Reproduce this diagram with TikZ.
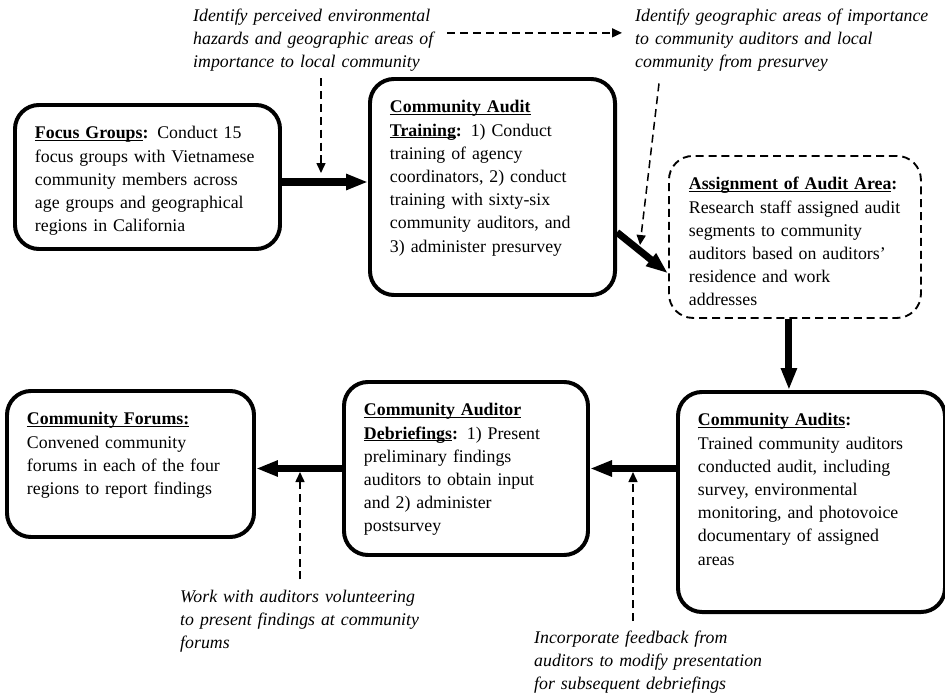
\documentclass[tikz,border=0pt]{standalone}
\usepackage{fontspec}
\setmainfont{Liberation Serif}
\usepackage{tikz}
\usetikzlibrary{arrows.meta}
\newsavebox\hdrbox
\newcommand{\hdr}[1]{\leavevmode\sbox\hdrbox{\textbf{#1}}\rlap{\rule[-1.7pt]{\wd\hdrbox}{0.6pt}}\usebox\hdrbox}
\newcommand{\diagfont}{\fontsize{15.2}{19.8}\selectfont}
\tikzset{
    %Define standard arrow tip
    >={Triangle[length=0.66cm,width=0.45cm]},
    %Define style for boxes
    stage/.style={
           rectangle,
           rounded corners=0.72cm,
           draw=black, line width=3.4pt,
           anchor=north west,
           align=left,
           inner xsep=0.6cm,
           inner ysep=0.66cm,
           text height=0.36cm,
           font=\diagfont},
    pending/.style={
           stage,
           line width=1.6pt,
           dash pattern=on 6.8pt off 4.2pt},
    remark/.style={
           anchor=base west,
           align=left,
           inner sep=0pt,
           font=\diagfont\itshape},
    % Define arrow style
    flow/.style={
           ->,
           line width=6pt},
    hint/.style={
           -{Triangle[length=0.3cm,width=0.27cm]},
           line width=1.3pt,
           dash pattern=on 6.8pt off 4.2pt}
}

\begin{document}
\begin{tikzpicture}[x=0.03cm,y=-0.03cm]
\useasboundingbox (0,0) rectangle (945,698);
% stages of the audit
\node[stage, text width=6.75cm, text depth=2.64cm] (focus) at (13,103)
  {\hdr{Focus Groups}\textbf{:} Conduct 15\\
   focus groups with Vietnamese\\
   community members across\\
   age groups and geographical\\
   regions in California};
\node[stage, text width=6.15cm, text depth=4.8cm] (training) at (368,77)
  {\hdr{Community Audit}\\
   \hdr{Training}\textbf{:} 1) Conduct\\
   training of agency\\
   coordinators, 2) conduct\\
   training with sixty-six\\
   community auditors, and\\
   3) administer presurvey};
\node[pending, text width=6.36cm, text depth=3.18cm] (assign) at (668,155)
  {\hdr{Assignment of Audit Area}\textbf{:}\\
   Research staff assigned audit\\
   segments to community\\
   auditors based on auditors'\\
   residence and work\\
   addresses};
\node[stage, text width=6.81cm, text depth=4.92cm] (audits) at (676,390)
  {\hdr{Community Audits}\textbf{:}\\
   Trained community auditors\\
   conducted audit, including\\
   survey, environmental\\
   monitoring, and photovoice\\
   documentary of assigned\\
   areas};
\node[stage, text width=6.12cm, text depth=3.51cm] (debrief) at (342,380)
  {\hdr{Community Auditor}\\
   \hdr{Debriefings}\textbf{:} 1) Present\\
   preliminary findings\\
   auditors to obtain input\\
   and 2) administer\\
   postsurvey};
\node[stage, text width=6.21cm, text depth=2.7cm] (forums) at (5,389)
  {\hdr{Community Forums:}\\
   Convened community\\
   forums in each of the four\\
   regions to report findings};
% notes
\node[remark, text width=7.5cm] (noteA) at (193,21)
  {Identify perceived environmental\\
   hazards and geographic areas of\\
   importance to local community};
\node[remark, text width=9.5cm] (noteB) at (635,21)
  {Identify geographic areas of importance\\
   to community auditors and local\\
   community from presurvey};
\node[remark, text width=8cm] (noteC) at (180,602)
  {Work with auditors volunteering\\
   to present findings at community\\
   forums};
\node[remark, text width=8cm] (noteD) at (534,643)
  {Incorporate feedback from\\
   auditors to modify presentation\\
   for subsequent debriefings};
\coordinate (tipA) at (321,173);
\coordinate (tipB) at (640,245);
\coordinate (tipC) at (300,472);
\coordinate (tipD) at (633,472);
% main flow
\draw[flow] ([shift={(0,5)}]focus.east) -- ([shift={(0,5)}]focus.east -| training.west);
\draw[flow] (training.-20.6) -- (assign.196);
\draw[flow] ([shift={(-6,0)}]assign.south) -- ([shift={(-6,0)}]assign.south |- audits.north);
\draw[flow] (audits.west |- debrief.east) -- (debrief.east);
\draw[flow] (debrief.west) -- (debrief.west -| forums.east);
% notes to flow
\draw[hint] ([yshift=-0.2cm]tipA |- noteA.south) -- (tipA);
\draw[hint] ([shift={(4,-7)}]noteA.east) -- ([shift={(-13,-7)}]noteB.west);
\draw[hint] ([shift={(24,12)}]noteB.south west) -- (tipB);
\draw[hint] ([yshift=0.3cm]tipC |- noteC.north) -- (tipC);
\draw[hint] ([yshift=0.27cm]tipD |- noteD.north) -- (tipD);
\end{tikzpicture}
\end{document}
